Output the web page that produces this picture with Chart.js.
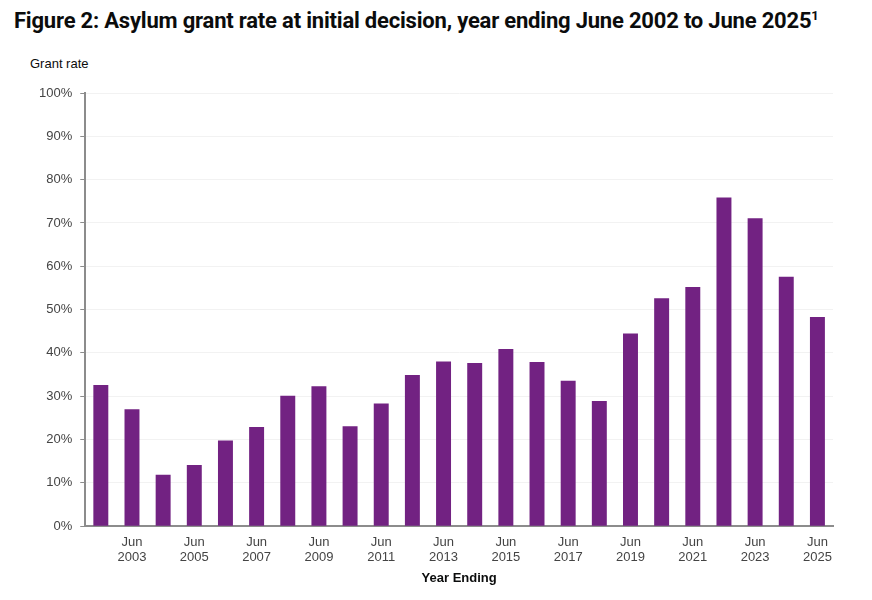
<!DOCTYPE html>
<html>
<head>
<meta charset="utf-8">
<script src="https://cdn.jsdelivr.net/npm/chart.js@4.4.1/dist/chart.umd.min.js"></script>
<style>
  html, body { margin: 0; padding: 0; background: #fff; }
  #wrap { position: relative; width: 872px; height: 600px; }
  #title { position: absolute; left: 14px; top: 8px; font-family: 'Roboto', sans-serif; font-weight: bold; font-size: 22px; color: #0b0c0c; white-space: nowrap; letter-spacing: -0.2px; }
  #title sup { font-size: 13px; }
  #ylab { position: absolute; left: 30px; top: 56px; font-family: 'Liberation Sans', Arial, sans-serif; font-size: 13px; color: #0b0c0c; }
  canvas { position: absolute; left: 0; top: 0; }
</style>
</head>
<body>
<div id="wrap">
  <div id="title">Figure 2: Asylum grant rate at initial decision, year ending June 2002 to June 2025<sup>1</sup></div>
  <div id="ylab">Grant rate</div>
  <canvas id="chart" width="872" height="600"></canvas>
</div>
<script>
const years = [2002, 2003, 2004, 2005, 2006, 2007, 2008, 2009, 2010, 2011, 2012, 2013,
               2014, 2015, 2016, 2017, 2018, 2019, 2020, 2021, 2022, 2023, 2024, 2025];
const grantRate = [32.6, 27.0, 11.9, 14.1, 19.8, 22.9, 30.1, 32.3, 23.1, 28.3, 34.9, 38.0,
                   37.7, 40.9, 37.9, 33.6, 28.9, 44.5, 52.6, 55.2, 75.9, 71.1, 57.6, 48.3];
const yTicks = [0, 10, 20, 30, 40, 50, 60, 70, 80, 90, 100];

const barColor = '#722282';
const tickFont = { family: "'Liberation Sans', Arial, sans-serif", size: 13 };

const ctx = document.getElementById('chart').getContext('2d');
new Chart(ctx, {
    type: 'bar',
    data: {
        labels: years.map(y => ['Jun', String(y)]),
        datasets: [{
            data: grantRate,
            backgroundColor: barColor,
            borderWidth: 0,
            barPercentage: 0.48,
            categoryPercentage: 1
        }]
    },
    options: {
        responsive: false,
        animation: false,
        layout: { padding: { top: 93, left: 31, right: 39, bottom: 14 } },
        plugins: {
            legend: { display: false },
            tooltip: { enabled: false }
        },
        scales: {
            x: {
                grid: { display: false },
                border: { display: true, color: '#8c8c8c', width: 2 },
                ticks: {
                    autoSkip: false,
                    maxRotation: 0,
                    color: '#444',
                    font: tickFont,
                    padding: 0,
                    callback: function (value, index) {
                        return index % 2 === 1 ? ['Jun', String(years[index])] : '';
                    }
                },
                title: {
                    display: true,
                    text: 'Year Ending',
                    color: '#0b0c0c',
                    font: { family: "'Liberation Sans', Arial, sans-serif", size: 13, weight: 'bold' },
                    padding: { top: 5, bottom: 0 }
                }
            },
            y: {
                min: 0,
                max: 100,
                afterBuildTicks: axis => { axis.ticks = yTicks.map(v => ({ value: v })); },
                grid: { color: '#f2f2f2', tickColor: '#8c8c8c', tickLength: 5, lineWidth: 1 },
                border: { display: true, color: '#8c8c8c', width: 2 },
                ticks: {
                    color: '#444',
                    font: tickFont,
                    padding: 8,
                    callback: v => v + '%'
                }
            }
        }
    }
});
</script>
</body>
</html>
